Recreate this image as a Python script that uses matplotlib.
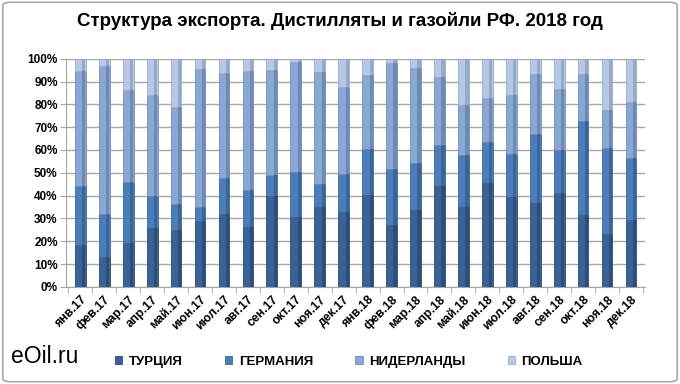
import matplotlib
matplotlib.use("Agg")
import matplotlib.pyplot as plt
import numpy as np
from matplotlib.patches import FancyBboxPatch
from matplotlib.ticker import PercentFormatter

plt.rcParams['font.family'] = ['Liberation Sans', 'DejaVu Sans']

months = ["янв.17", "фев.17", "мар.17", "апр.17", "май.17", "июн.17", "июл.17", "авг.17",
          "сен.17", "окт.17", "ноя.17", "дек.17", "янв.18", "фев.18", "мар.18", "апр.18",
          "май.18", "июн.18", "июл.18", "авг.18", "сен.18", "окт.18", "ноя.18", "дек.18"]
turkey = [18.4, 13.0, 19.4, 25.7, 25.0, 28.7, 32.0, 26.2, 40.0, 30.6, 34.9, 33.0,
          40.4, 27.0, 33.5, 44.4, 34.9, 45.6, 39.4, 36.8, 41.2, 31.6, 23.1, 29.1]
germany = [25.6, 19.0, 26.6, 14.0, 11.3, 6.3, 15.8, 16.2, 9.0, 19.7, 10.0, 16.3,
           19.9, 24.5, 20.9, 18.0, 22.9, 17.9, 19.0, 30.1, 18.7, 41.2, 37.6, 27.2]
netherlands = [50.5, 65.0, 40.5, 44.3, 42.4, 60.3, 45.9, 52.1, 46.0, 48.2, 49.5, 38.5,
               32.7, 46.5, 41.6, 29.6, 21.9, 19.3, 25.7, 26.5, 26.9, 20.6, 16.8, 24.6]
poland = [5.5, 3.0, 13.5, 16.0, 21.3, 4.7, 6.3, 5.5, 5.0, 1.5, 5.6, 12.2,
          7.0, 2.0, 4.0, 8.0, 20.3, 17.2, 15.9, 6.6, 13.2, 6.6, 22.5, 19.1]
series_names = ["ТУРЦИЯ", "ГЕРМАНИЯ", "НИДЕРЛАНДЫ", "ПОЛЬША"]
colors = ["#3A6297", "#4A7EBB", "#8AA6D2", "#B8C7E3"]
shades = ["#2E4E79", "#3B6599", "#7089B4", "#98A9C8"]
edges = ["#2B4A73", "#3A6596", "#6F8CBA", "#9AAAC8"]

fig = plt.figure(figsize=(6.8, 3.84), dpi=100)
border = FancyBboxPatch((0.004, 0.006), 0.992, 0.988, boxstyle="round,pad=0,rounding_size=0.01",
                        transform=fig.transFigure, facecolor="none", edgecolor="#A6A6A6", lw=1.2, zorder=-1)
fig.patches.append(border)
ax = fig.add_axes([0.097, 0.253, 0.852, 0.594])
ax.set_facecolor("none")

x = np.arange(len(months))
data = [np.array(s) for s in (turkey, germany, netherlands, poland)]
total = sum(data)
bottom = np.zeros(len(months))
w = 0.45
for vals, name, c, sh, e in zip(data, series_names, colors, shades, edges):
    frac = vals / total
    ax.bar(x, frac, w, bottom=bottom, color=c, edgecolor=e, linewidth=0.6, label=name, zorder=3)
    ax.bar(x + w * 0.33, frac, w * 0.3, bottom=bottom, color=sh, linewidth=0, zorder=4)
    bottom = bottom + frac

ax.set_xlim(-0.6, 23.6)
ax.set_ylim(0, 1.0)
ax.set_yticks(np.arange(0, 1.01, 0.1))
ax.yaxis.set_major_formatter(PercentFormatter(1.0, decimals=0))
ax.grid(axis='y', color="#A6A6A6", linewidth=1.0, zorder=0)
ax.set_xticks(x)
ax.set_xticklabels(months, rotation=45, ha='right', rotation_mode='anchor', fontsize=8.8, fontweight='bold')
for lab in ax.get_yticklabels():
    lab.set_fontweight('bold')
    lab.set_fontsize(8.5)
for s in ["top", "right"]:
    ax.spines[s].set_visible(False)
ax.spines["left"].set_color("#A6A6A6")
ax.spines["bottom"].set_color("#A6A6A6")
ax.tick_params(axis='both', colors="#A6A6A6", labelcolor="black", length=4, pad=2)
ax.set_xticks(np.arange(-0.5, 24, 1), minor=True)
ax.tick_params(axis='x', which='major', length=0, pad=5)
ax.tick_params(axis='x', which='minor', length=4, color="#A6A6A6")

fig.text(0.5, 0.945, "Структура экспорта. Дистилляты и газойли РФ. 2018 год", ha='center', va='center',
         fontsize=13.5, fontweight='bold')
fig.text(0.016, 0.072, "eOil.ru", ha='left', va='center', fontsize=16.5)

handles, labels = ax.get_legend_handles_labels()
leg = fig.legend(handles, labels, loc='center', bbox_to_anchor=(0.513, 0.057), ncol=4, frameon=False,
                 prop={'size': 9.5, 'weight': 'bold'}, handlelength=0.55, handleheight=0.55,
                 handletextpad=0.5, columnspacing=3.2)

fig.savefig("out.png", dpi=100)
